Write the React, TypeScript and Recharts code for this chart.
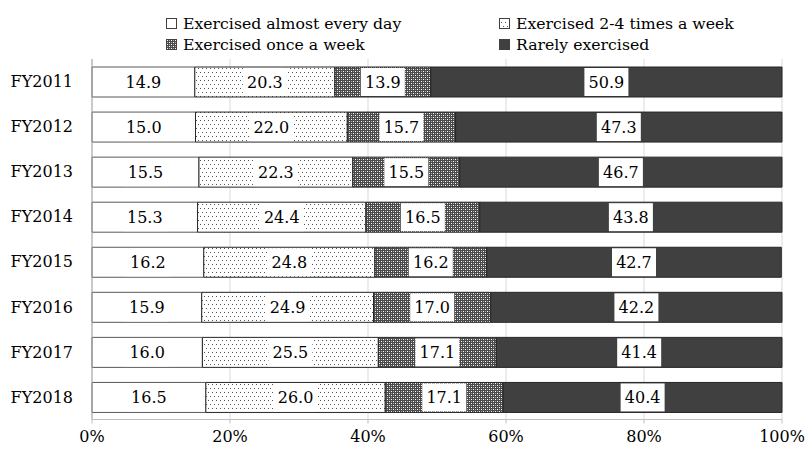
import React from 'react';
import { BarChart, Bar, XAxis, YAxis, CartesianGrid, Legend, LabelList } from 'recharts';

const years = ['FY2011', 'FY2012', 'FY2013', 'FY2014', 'FY2015', 'FY2016', 'FY2017', 'FY2018'];
const almostEveryDay = [14.9, 15.0, 15.5, 15.3, 16.2, 15.9, 16.0, 16.5];
const twoToFourTimes = [20.3, 22.0, 22.3, 24.4, 24.8, 24.9, 25.5, 26.0];
const onceAWeek = [13.9, 15.7, 15.5, 16.5, 16.2, 17.0, 17.1, 17.1];
const rarely = [50.9, 47.3, 46.7, 43.8, 42.7, 42.2, 41.4, 40.4];
const xTicks = [0, 20, 40, 60, 80, 100];

const seriesNames = [
  'Exercised almost every day',
  'Exercised 2-4 times a week',
  'Exercised once a week',
  'Rarely exercised',
];

const data = years.map((y, i) => ({
  year: y,
  a: almostEveryDay[i],
  b: twoToFourTimes[i],
  c: onceAWeek[i],
  d: rarely[i],
}));

const FONT = '"DejaVu Serif", serif';
const FS = 16;
const fills = ['#ffffff', 'url(#patDots)', 'url(#patCross)', '#404040'];

const BoxLabel = (props: any) => {
  const { x, y, width, height, value } = props;
  const cx = Number(x) + Number(width) / 2;
  const cy = Number(y) + Number(height) / 2;
  return (
    <g>
      <rect x={cx - 22} y={cy - 14} width={44} height={28} fill="#ffffff" />
      <text x={cx} y={cy + 1} textAnchor="middle" dominantBaseline="middle" fontFamily={FONT} fontSize={FS} fill="#000">
        {Number(value).toFixed(1)}
      </text>
    </g>
  );
};

const legendPos = [
  { left: 166, top: 14 },
  { left: 499, top: 14 },
  { left: 166, top: 35 },
  { left: 499, top: 35 },
];

const LegendContent = () => (
  <div style={{ position: 'relative', width: 806, height: 59 }}>
    {seriesNames.map((n, i) => (
      <div key={n} style={{ position: 'absolute', left: legendPos[i].left, top: legendPos[i].top, display: 'flex', alignItems: 'center', whiteSpace: 'nowrap', fontFamily: FONT, fontSize: 15.7, color: '#000', lineHeight: '20px' }}>
        <svg width={12} height={12} style={{ marginRight: 5 }}>
          <rect x={0.5} y={0.5} width={10} height={10} fill={fills[i]} stroke="#404040" strokeWidth={1} />
        </svg>
        <span>{n}</span>
      </div>
    ))}
  </div>
);

export default function App() {
  return (
    <div style={{ position: 'absolute', left: 0, top: 0, width: 806, height: 450, background: '#fff' }}>
      <svg width={0} height={0} style={{ position: 'absolute' }}>
        <defs>
          <pattern id="patDots" patternUnits="userSpaceOnUse" width={4} height={8}>
            <rect x={0} y={0} width={4} height={8} fill="#ffffff" />
            <rect x={0} y={0} width={1} height={1} fill="#555555" />
            <rect x={2} y={4} width={1} height={1} fill="#555555" />
          </pattern>
          <pattern id="patCross" patternUnits="userSpaceOnUse" width={4} height={4}>
            <rect x={0} y={0} width={4} height={4} fill="#4a4a4a" />
            <rect x={1} y={1} width={1} height={1} fill="#ffffff" />
            <rect x={3} y={3} width={1} height={1} fill="#ffffff" />
            <rect x={1} y={3} width={1} height={1} fill="#aaaaaa" />
            <rect x={3} y={1} width={1} height={1} fill="#aaaaaa" />
          </pattern>
        </defs>
      </svg>
      <BarChart
        width={806}
        height={450}
        data={data}
        layout="vertical"
        margin={{ top: 0, right: 24, bottom: 0, left: 0 }}
        barSize={30}
      >
        <CartesianGrid horizontal={false} vertical={true} stroke="#d9d9d9" />
        <XAxis
          type="number"
          domain={[0, 100]}
          ticks={xTicks}
          tickFormatter={(v: number) => `${v}%`}
          height={30.5}
          tickSize={4}
          tickMargin={7}
          axisLine={{ stroke: '#bfbfbf' }}
          tickLine={{ stroke: '#bfbfbf' }}
          tick={{ fontFamily: FONT, fontSize: FS, fill: '#000' }}
          interval={0}
        />
        <YAxis
          type="category"
          dataKey="year"
          width={92}
          tickSize={0}
          tickMargin={19}
          axisLine={{ stroke: '#a6a6a6' }}
          tickLine={false}
          tick={{ fontFamily: FONT, fontSize: FS, fill: '#000' }}
        />
        <Legend verticalAlign="top" align="left" content={<LegendContent />} />
        <Bar dataKey="a" name={seriesNames[0]} stackId="s" fill={fills[0]} stroke="#595959" strokeWidth={1} isAnimationActive={false}>
          <LabelList dataKey="a" content={<BoxLabel />} />
        </Bar>
        <Bar dataKey="b" name={seriesNames[1]} stackId="s" fill={fills[1]} stroke="#262626" strokeWidth={1} isAnimationActive={false}>
          <LabelList dataKey="b" content={<BoxLabel />} />
        </Bar>
        <Bar dataKey="c" name={seriesNames[2]} stackId="s" fill={fills[2]} stroke="#262626" strokeWidth={1} isAnimationActive={false}>
          <LabelList dataKey="c" content={<BoxLabel />} />
        </Bar>
        <Bar dataKey="d" name={seriesNames[3]} stackId="s" fill={fills[3]} stroke="#262626" strokeWidth={1} isAnimationActive={false}>
          <LabelList dataKey="d" content={<BoxLabel />} />
        </Bar>
      </BarChart>
    </div>
  );
}
